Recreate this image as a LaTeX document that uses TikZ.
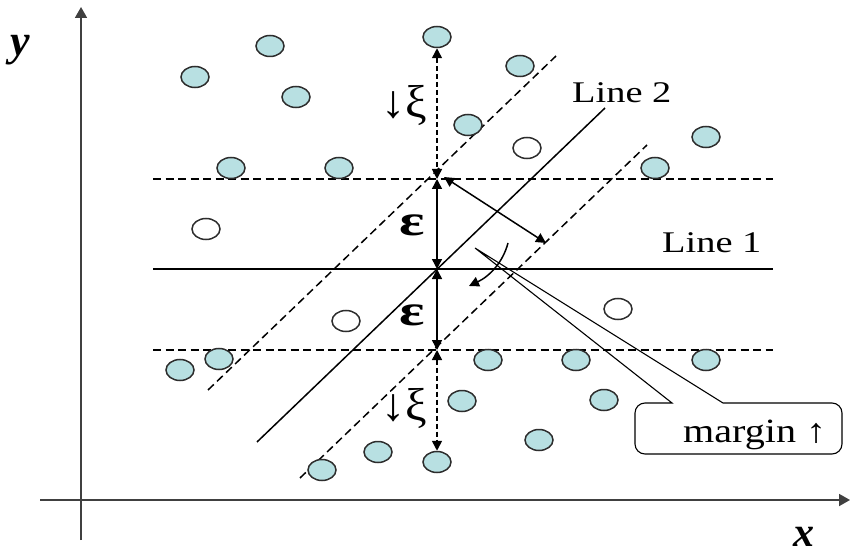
\documentclass[tikz,border=0pt]{standalone}
\usepackage{fontspec}
\setmainfont{Liberation Serif}
\usetikzlibrary{arrows.meta,shapes.geometric}
\definecolor{ballfill}{RGB}{184,224,226}
\definecolor{ballline}{RGB}{45,45,45}
\definecolor{axisgray}{RGB}{64,64,64}
\newcommand{\wide}[2]{\scalebox{#1}[1]{#2}}

\begin{document}
\begin{tikzpicture}[x=1pt,y=-1pt,
  >={Triangle[length=10pt,width=10pt]},
  ball/.style={ellipse,draw=ballline,line width=1.5pt,fill=ballfill,
    minimum width=28pt,minimum height=21pt,inner sep=0pt},
  hollow/.style={ball,fill=white},
  axis/.style={draw=axisgray,line width=1.8pt,-{Triangle[length=11pt,width=12pt]}},
  guide/.style={line width=1.5pt,dash pattern=on 8pt off 4.5pt},
  vguide/.style={line width=1.5pt,dash pattern=on 5pt off 3pt},
  plain/.style={line width=1.5pt},
  lbl/.style={inner sep=0pt,anchor=base west},
]
\useasboundingbox (0,0) rectangle (851,556);

% axes
\coordinate (yb) at (81,540);
\coordinate (yt) at (81,7);
\coordinate (xl) at (40,500);
\coordinate (xr) at (850,500);
\draw[axis] (yb) -- (yt);
\draw[axis] (xl) -- (xr);
\node[lbl,font=\fontsize{44}{44}\selectfont\bfseries\itshape] (ylab) at (10,56) {y};
\node[lbl,font=\fontsize{42}{42}\selectfont\bfseries\itshape] (xlab) at (793,546) {x};

% horizontal boundaries (Line 1 and the two epsilon lines)
\coordinate (h1l) at (153,179); \coordinate (h1r) at (773,179);
\coordinate (l1l) at (153,269); \coordinate (l1r) at (773,269);
\coordinate (h2l) at (153,350); \coordinate (h2r) at (773,350);
\draw[guide] (h1l) -- (h1r);
\draw[plain] (l1l) -- (l1r);
\draw[guide] (h2l) -- (h2r);

% slanted boundaries (Line 2 and its margins)
\coordinate (u1) at (208,390); \coordinate (u2) at (556,56);
\coordinate (s1) at (257,442); \coordinate (s2) at (605,108);
\coordinate (d1) at (300,478); \coordinate (d2) at (647,145);
\draw[guide] (u1) -- (u2);
\draw[plain] (s1) -- (s2);
\draw[guide] (d1) -- (d2);

% data points
\node[ball] (b1) at (195,77) {};
\node[ball] (b2) at (270,46) {};
\node[ball] (b3) at (296,97) {};
\node[ball] (b4) at (437,37) {};
\node[ball] (b5) at (520,66) {};
\node[ball] (b6) at (468,125) {};
\node[ball] (b7) at (706,137) {};
\node[ball] (b8) at (655,168) {};
\node[ball] (b9) at (231,168) {};
\node[ball] (b10) at (339,168) {};
\node[ball] (b11) at (180,370) {};
\node[ball] (b12) at (219,359) {};
\node[ball] (b13) at (488,360) {};
\node[ball] (b14) at (576,360) {};
\node[ball] (b15) at (706,360) {};
\node[ball] (b16) at (462,401) {};
\node[ball] (b17) at (604,400) {};
\node[ball] (b18) at (539,440) {};
\node[ball] (b19) at (378,452) {};
\node[ball] (b20) at (322,470) {};
\node[ball] (b21) at (437,462) {};
\node[hollow] (e1) at (527,148) {};
\node[hollow] (e2) at (206,229) {};
\node[hollow] (e3) at (346,321) {};
\node[hollow] (e4) at (618,309) {};

% vertical measures
\coordinate (m0) at (437,179);
\coordinate (m1) at (437,269);
\coordinate (m2) at (437,350);
\draw[vguide,<->] (b4) -- (m0);
\draw[plain,<->] (m0) -- (m1);
\draw[plain,<->] (m1) -- (m2);
\draw[vguide,<->] (m2) -- (b21);

% perpendicular margin width
\coordinate (p1) at (444,177);
\coordinate (p2) at (546,243);
\draw[plain,<->] (p1) -- (p2);

% rotation arrow
\coordinate (ca1) at (508,243);
\coordinate (ca2) at (469,286);
\draw[plain,->] (ca1) .. controls (503,262) and (490,276) .. (ca2);

% callout
\coordinate (ctip) at (475,248);
\coordinate (c1) at (672,403);
\coordinate (c2) at (723,403);
\draw[line width=1.1pt] (c1) -- (ctip) -- (c2) -- (832,403)
  arc[start angle=-90,end angle=0,radius=10] -- (842,444)
  arc[start angle=0,end angle=90,radius=10] -- (645,454)
  arc[start angle=90,end angle=180,radius=10] -- (635,413)
  arc[start angle=180,end angle=270,radius=10] -- cycle;
\node[lbl,font=\fontsize{34}{34}\selectfont] (mtext) at (683,442) {\wide{1.18}{margin {\bfseries ↑}}};

% labels
\node[lbl,font=\fontsize{30}{30}\selectfont] (line1) at (662,252) {\wide{1.28}{Line 1}};
\node[lbl,font=\fontsize{30}{30}\selectfont] (line2) at (572,103) {\wide{1.28}{Line 2}};
\node[inner sep=0pt,anchor=base,font=\fontsize{44}{44}\selectfont\bfseries] (eps1) at (412,235) {\wide{1.35}{ε}};
\node[inner sep=0pt,anchor=base,font=\fontsize{44}{44}\selectfont\bfseries] (eps2) at (412,325) {\wide{1.35}{ε}};
\node[inner sep=0pt,anchor=base,font=\fontsize{46}{46}\selectfont] (xi1) at (404,118) {\wide{1.05}{{\bfseries ↓}ξ}};
\node[inner sep=0pt,anchor=base,font=\fontsize{46}{46}\selectfont] (xi2) at (404,420) {\wide{1.05}{{\bfseries ↓}ξ}};
\end{tikzpicture}
\end{document}
